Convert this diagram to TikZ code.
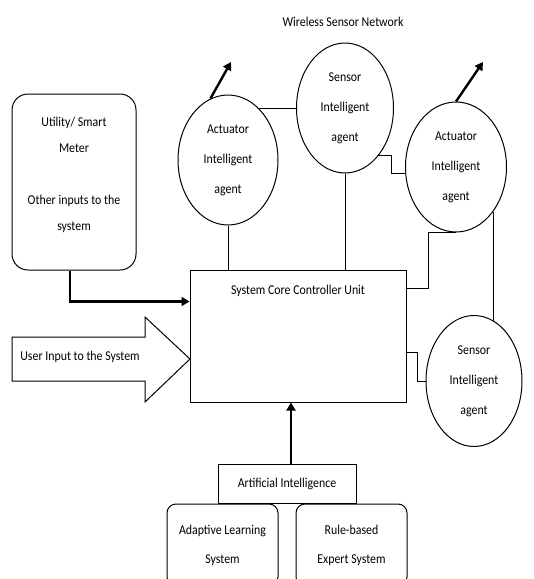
\documentclass[tikz,border=0pt]{standalone}
\usepackage{fontspec}
\setmainfont[FakeStretch=0.88]{Carlito}
\usetikzlibrary{shapes.geometric,arrows.meta}
\begin{document}
\begin{tikzpicture}[x=1pt,y=-1pt,
  line width=1pt,
  txt/.style={font=\fontsize{13.5}{30}\selectfont, align=center},
  agent/.style={ellipse, draw, inner sep=0pt, txt},
  box/.style={draw, rectangle, inner sep=0pt},
  bigarrow/.style={line width=2.4pt, -{Triangle[length=8pt,width=9pt]}},
]
\clip (0,0) rectangle (534,579);
% left input box
\node[box, rounded corners=16pt, minimum width=124pt, minimum height=176pt] (util) at (74,182) {};
\node[txt, font=\fontsize{13.5}{26}\selectfont] (utiltext) at (74,175) {Utility/ Smart\\Meter\\[26pt]Other inputs to the\\system};
% controller
\node[box, minimum width=216pt, minimum height=132pt] (ctrl) at (298,336) {};
\node[txt] (ctrltext) at (298,291) {System Core Controller Unit};
% network title
\node[txt] (wsn) at (343,22) {Wireless Sensor Network};
% agents
\node[agent, minimum width=100pt, minimum height=130pt] (act1) at (228,160) {Actuator\\Intelligent\\agent};
\node[agent, minimum width=97pt, minimum height=130pt] (sens1) at (345,108) {Sensor\\Intelligent\\agent};
\node[agent, minimum width=101pt, minimum height=130pt] (act2) at (456,167) {Actuator\\Intelligent\\agent};
\node[agent, minimum width=96pt, minimum height=131pt] (sens2) at (474,381) {Sensor\\Intelligent\\agent};
% user input block arrow
\draw[fill=white] (12,337) -- (145,337) -- (145,317) -- (190,359) -- (145,402) -- (145,381) -- (12,381) -- cycle;
\node[txt] (usertext) at (80,357) {User Input to the System};
% AI
\node[box, txt, minimum width=138pt, minimum height=39pt] (ai) at (287,483.5) {Artificial Intelligence};
\node[box, rounded corners=9pt, minimum width=111pt, minimum height=82pt, txt, font=\fontsize{13.5}{29}\selectfont] (als) at (222.5,545) {Adaptive Learning\\System};
\node[box, rounded corners=9pt, minimum width=111pt, minimum height=82pt, txt, font=\fontsize{13.5}{29}\selectfont] (res) at (351.5,545) {Rule-based\\Expert System};
% connectors
\coordinate (ant1) at (231,62);
\coordinate (ant2) at (483,62);
\draw[bigarrow] (act1.106) -- (ant1);
\draw[bigarrow] (act2.north) -- (ant2);
\draw (act1.59) -- (act1.59 -| sens1.west);
\draw (sens1.-55) -- ++(13,0) |- (act2.187);
\draw (act1.south) -- (act1.south |- ctrl.north);
\draw (sens1.south) -- (sens1.south |- ctrl.north);
\draw (act2.south) -- ++(-28,0) |- ([yshift=-19pt]ctrl.north east);
\draw (act2.-50) -- (act2.-50 |- sens2.72);
\draw ([yshift=-83pt]ctrl.north east) -- ++(11,0) |- (sens2.west);
\draw[bigarrow] ([xshift=-4pt]util.south) |- ([yshift=-32pt]ctrl.north west);
\draw[bigarrow] ([xshift=4pt]ai.north) -- ([xshift=4pt]ai.north |- ctrl.south);
\end{tikzpicture}
\end{document}
